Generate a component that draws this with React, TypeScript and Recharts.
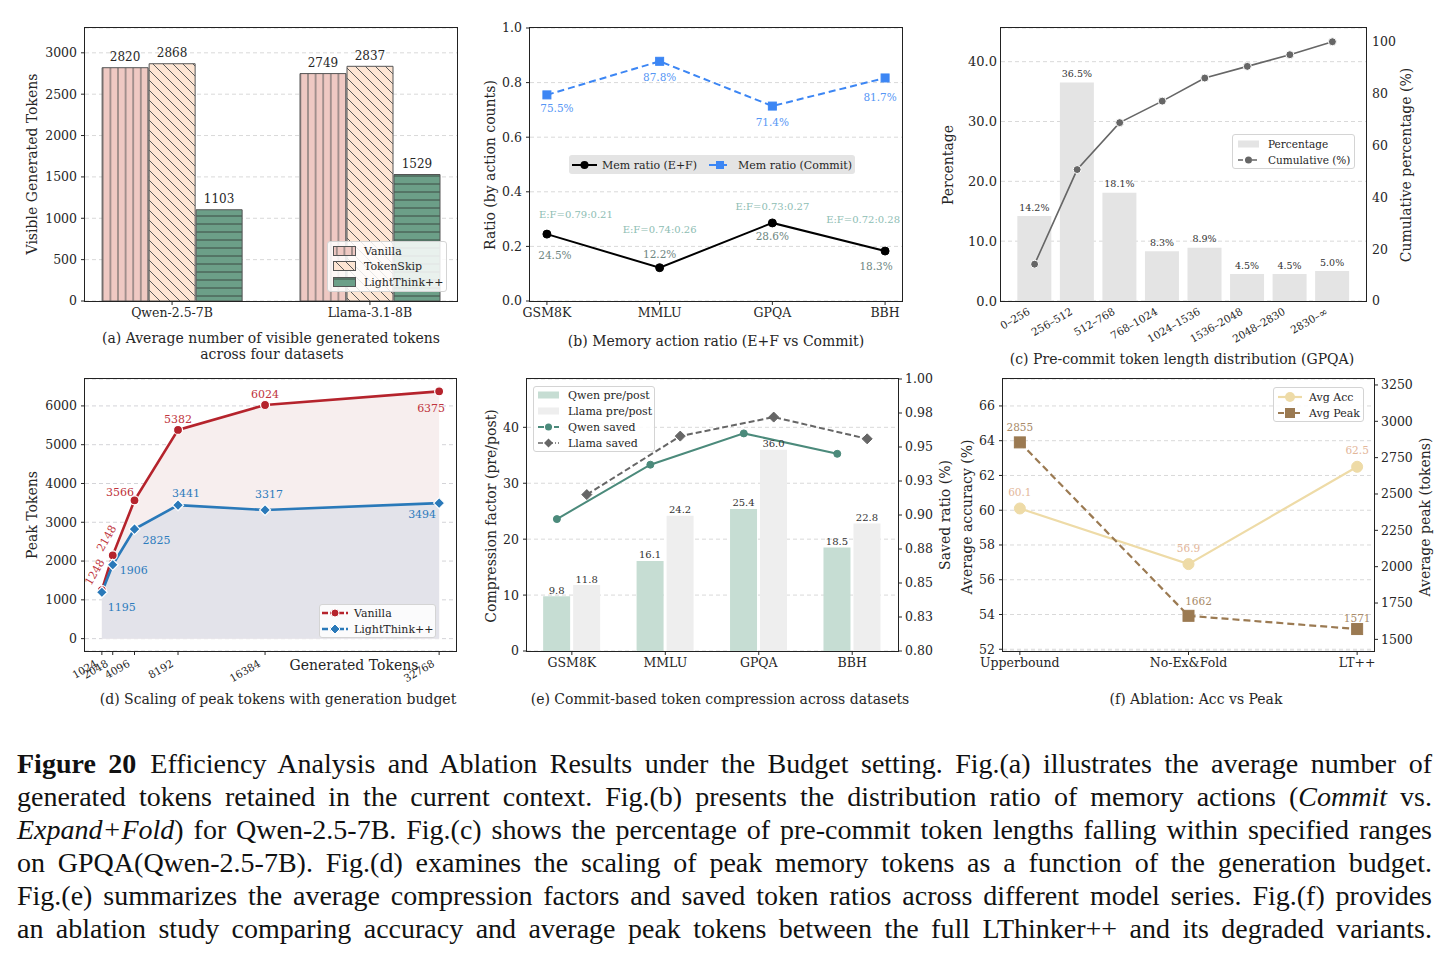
import React from 'react';
import { ComposedChart, Bar, Line, Area, XAxis, YAxis, CartesianGrid, LabelList } from 'recharts';

const SERIF = '"DejaVu Serif", serif';
const INK = '#262626';
const GRID = '#d9d9d9';

// ---------------- (a) visible generated tokens ----------------
const aModels = ['Qwen-2.5-7B', 'Llama-3.1-8B'];
const aVanilla = [2820, 2749];
const aTokenSkip = [2868, 2837];
const aLightThink = [1103, 1529];
const aYTicks = [0, 500, 1000, 1500, 2000, 2500, 3000];

// ---------------- (b) memory action ratio ----------------
const bDatasets = ['GSM8K', 'MMLU', 'GPQA', 'BBH'];
const bMemEF = [0.245, 0.122, 0.286, 0.183];
const bMemCommit = [0.755, 0.878, 0.714, 0.817];
const bExpandShare = [0.79, 0.74, 0.73, 0.72];
const bFoldShare = [0.21, 0.26, 0.27, 0.28];
const bYTicks = [0, 0.2, 0.4, 0.6, 0.8, 1.0];

// ---------------- (c) pre-commit token length distribution ----------------
const cBins = ['0–256', '256–512', '512–768', '768–1024', '1024–1536', '1536–2048', '2048–2830', '2830–∞'];
const cPercent = [14.2, 36.5, 18.1, 8.3, 8.9, 4.5, 4.5, 5.0];
const cCumulative = [14.2, 50.7, 68.8, 77.1, 86.0, 90.5, 95.0, 100.0];
const cLeftTicks = [0, 10, 20, 30, 40];
const cRightTicks = [0, 20, 40, 60, 80, 100];

// ---------------- (d) peak tokens vs budget ----------------
const dBudgets = [1024, 2048, 4096, 8192, 16384, 32768];
const dVanilla = [1248, 2148, 3566, 5382, 6024, 6375];
const dLightThink = [1195, 1906, 2825, 3441, 3317, 3494];
const dYTicks = [0, 1000, 2000, 3000, 4000, 5000, 6000];

// ---------------- (e) compression ----------------
const eDatasets = ['GSM8K', 'MMLU', 'GPQA', 'BBH'];
const eQwenFactor = [9.8, 16.1, 25.4, 18.5];
const eLlamaFactor = [11.8, 24.2, 36.0, 22.8];
const eQwenSaved = [0.897, 0.937, 0.96, 0.945];
const eLlamaSaved = [0.915, 0.958, 0.972, 0.956];
const eLeftTicks = [0, 10, 20, 30, 40];
const eRightTicks = [0.8, 0.825, 0.85, 0.875, 0.9, 0.925, 0.95, 0.975, 1.0];
const eRightTickLabels = ['0.80', '0.83', '0.85', '0.88', '0.90', '0.93', '0.95', '0.98', '1.00'];

// ---------------- (f) ablation ----------------
const fVariants = ['Upperbound', 'No-Ex&Fold', 'LT++'];
const fAcc = [60.1, 56.9, 62.5];
const fPeak = [2855, 1662, 1571];
const fLeftTicks = [52, 54, 56, 58, 60, 62, 64, 66];
const fRightTicks = [1500, 1750, 2000, 2250, 2500, 2750, 3000, 3250];

// ---------------- label placement (layout only) ----------------
const bCommitLabelOff = [[10, 13], [0, 16], [0, 16], [-5, 19]];
const bEFLabelOff = [[8, 21], [0, -14], [0, 13], [-9, 15]];
const bRatioLabelOff = [[29, -20], [0, -38], [0, -16], [-22, -32]];
const dVanillaLabelOff = [[-7, -18], [-6, -17], [-14.5, -8], [0, -10], [0, -10], [-8, 17.5]];
const dVanillaLabelRot = [-60, -60, 0, 0, 0, 0];
const dLTLabelOff = [[20, 15], [21, 6], [22, 11], [8, -12], [4, -15], [-17, 11]];
const fAccLabelOff = [[0, -16], [0, -16], [0, -17]];
const fPeakLabelOff = [[0, -15], [10, -15], [0, -11]];

// ---------------- geometry ----------------
const M = { top: 24, right: 12, bottom: 12, left: 12 };
type Geo = { x0: number; y0: number; x1: number; y1: number; yl: number; yr: number; xh: number };
const GA: Geo = { x0: 85, y0: 28, x1: 457, y1: 301, yl: 50, yr: 0, xh: 30 };
const GB: Geo = { x0: 530, y0: 28, x1: 902, y1: 301, yl: 40, yr: 0, xh: 30 };
const GC: Geo = { x0: 1001, y0: 28, x1: 1366, y1: 301, yl: 40, yr: 35, xh: 30 };
const GD: Geo = { x0: 85, y0: 379, x1: 456, y1: 651, yl: 50, yr: 0, xh: 30 };
const GE: Geo = { x0: 527, y0: 379, x1: 898, y1: 651, yl: 30, yr: 40, xh: 30 };
const GF: Geo = { x0: 1003, y0: 379, x1: 1374, y1: 651, yl: 30, yr: 45, xh: 30 };

const place = (g: Geo) => ({
  left: g.x0 - g.yl - M.left,
  top: g.y0 - M.top,
  width: g.x1 - g.x0 + g.yl + g.yr + M.left + M.right,
  height: g.y1 - g.y0 + g.xh + M.top + M.bottom,
});

const tickStyle = (size = 12.5) => ({ fontSize: size, fontFamily: SERIF, fill: INK });

function Panel({ g, data, barGap, children }: any) {
  const p = place(g);
  return (
    <div style={{ position: 'absolute', left: p.left, top: p.top }}>
      <ComposedChart width={p.width} height={p.height} data={data} margin={M} barGap={barGap}>
        {children}
      </ComposedChart>
    </div>
  );
}

function Frame({ g }: { g: Geo }) {
  return (
    <div
      style={{
        position: 'absolute', left: g.x0 - 0.6, top: g.y0 - 0.6, width: g.x1 - g.x0 + 1.2, height: g.y1 - g.y0 + 1.2,
        border: '1.2px solid #222', boxSizing: 'border-box', pointerEvents: 'none',
      }}
    />
  );
}

function marker(shape: string, cx: number, cy: number, r: number, fill: string, stroke: string, sw: number) {
  if (shape === 'circle') return <circle cx={cx} cy={cy} r={r} fill={fill} stroke={stroke} strokeWidth={sw} />;
  if (shape === 'square') return <rect x={cx - r} y={cy - r} width={2 * r} height={2 * r} fill={fill} stroke={stroke} strokeWidth={sw} />;
  return <path d={`M${cx},${cy - r}L${cx + r},${cy}L${cx},${cy + r}L${cx - r},${cy}Z`} fill={fill} stroke={stroke} strokeWidth={sw} />;
}

type LabelSet = { texts: string[]; offsets: number[][]; color: string; size: number; rotate?: number[] };
function makeDot(shape: string, r: number, fill: string, stroke: string, sw: number, labels: LabelSet[] = []) {
  return (p: any) => {
    const { cx, cy, index } = p;
    const key = `dot-${index}`;
    if (cx == null || cy == null || isNaN(cx) || isNaN(cy)) return <g key={key} />;
    return (
      <g key={key}>
        {marker(shape, cx, cy, r, fill, stroke, sw)}
        {labels.map((L, j) => {
          const tx = cx + L.offsets[index][0];
          const ty = cy + L.offsets[index][1];
          return (
            <text key={j} x={tx} y={ty} textAnchor="middle" dominantBaseline="central" fill={L.color}
              fontSize={L.size} fontFamily={SERIF}
              transform={L.rotate && L.rotate[index] ? `rotate(${L.rotate[index]},${tx},${ty})` : undefined}>
              {L.texts[index]}
            </text>
          );
        })}
      </g>
    );
  };
}

const rotTick = (labels: (v: number) => string, baseY: number, size: number) => (p: any) => {
  const x = p.x - 3.8;
  return (
    <text key={`t-${p.index}`} x={x} y={baseY} textAnchor="end" fontSize={size} fontFamily={SERIF} fill={INK}
      transform={`rotate(-30,${x},${baseY})`}>
      {labels(p.payload.value)}
    </text>
  );
};

function Txt({ x, y, children, size = 14, rotate = 0, color = INK, weight = 400 }: any) {
  return (
    <div
      style={{
        position: 'absolute', left: x, top: y, transform: `translate(-50%,-50%) rotate(${rotate}deg)`,
        whiteSpace: 'nowrap', fontFamily: SERIF, fontSize: size, color, lineHeight: 1, fontWeight: weight,
      }}
    >
      {children}
    </div>
  );
}

function LegendBox({ left, top, width, height, bg = 'rgba(255,255,255,0.85)', border = '1px solid #d4d4d4', size = 11, rows }: any) {
  return (
    <div style={{ position: 'absolute', left, top, width, height, background: bg, border, borderRadius: 3, boxSizing: 'border-box' }}>
      {rows.map((r: any, i: number) => (
        <React.Fragment key={i}>
          <svg style={{ position: 'absolute', left: r.sx, top: r.y - 7 }} width={r.sw} height={14}>{r.swatch(r.sw)}</svg>
          <div style={{ position: 'absolute', left: r.tx, top: r.y, transform: 'translateY(-50%)', fontSize: size, fontFamily: SERIF, color: INK, whiteSpace: 'nowrap', lineHeight: 1 }}>
            {r.label}
          </div>
        </React.Fragment>
      ))}
    </div>
  );
}

const hatchSw = (id: string) => (w: number) => <rect x={0.5} y={2.5} width={w - 1} height={9} fill={`url(#${id})`} stroke="#555" strokeWidth={1} />;
const rectSw = (fill: string, h = 7) => (w: number) => <rect x={0} y={7 - h / 2} width={w} height={h} fill={fill} />;
const lineSw = (color: string, dash: string | undefined, shape: string, r: number, sw: number, mstroke = 'none') => (w: number) => (
  <g>
    <line x1={0} y1={7} x2={w} y2={7} stroke={color} strokeWidth={sw} strokeDasharray={dash} />
    {marker(shape, w / 2, 7, r, color, mstroke, 1)}
  </g>
);

const PatternDefs = () => (
  <svg width={0} height={0} style={{ position: 'absolute', left: 0, top: 0 }}>
    <defs>
      <pattern id="hatch-v" width={7.6} height={10} patternUnits="userSpaceOnUse">
        <rect width={7.6} height={10} fill="#efc9c3" />
        <line x1={3.8} y1={0} x2={3.8} y2={10} stroke="#5a5a5a" strokeWidth={1} />
      </pattern>
      <pattern id="hatch-d" width={10} height={10} patternUnits="userSpaceOnUse">
        <rect width={10} height={10} fill="#fde5d3" />
        <path d="M-1,-1 L11,11 M-6,4 L6,16 M4,-6 L16,6" stroke="#5a5a5a" strokeWidth={1} />
      </pattern>
      <pattern id="hatch-h" width={10} height={8} patternUnits="userSpaceOnUse">
        <rect width={10} height={8} fill="#6c9f88" />
        <line x1={0} y1={4} x2={10} y2={4} stroke="#3b4a43" strokeWidth={1} />
      </pattern>
    </defs>
  </svg>
);

// ---------------- charts ----------------
function ChartA() {
  const data = aModels.map((m, i) => ({ x: i, vanilla: aVanilla[i], tokenskip: aTokenSkip[i], lt: aLightThink[i] }));
  const lbl = { position: 'top' as const, offset: 6.5, fill: INK, fontSize: 12, fontFamily: SERIF };
  return (
    <Panel g={GA} data={data} barGap={1}>
      <CartesianGrid vertical={false} stroke={GRID} strokeDasharray="4 3" />
      <XAxis type="number" dataKey="x" domain={[-0.44, 1.44]} ticks={[0, 1]} allowDataOverflow interval={0}
        tickFormatter={(v: number) => aModels[Math.round(v)]} height={GA.xh} axisLine={false}
        tickLine={{ stroke: INK }} tickSize={4} tickMargin={3} tick={tickStyle()} />
      <YAxis domain={[0, 3300]} ticks={aYTicks} allowDataOverflow interval={0} width={GA.yl} axisLine={false}
        tickLine={{ stroke: INK }} tickSize={4} tickMargin={4} tick={tickStyle()} />
      <Bar dataKey="vanilla" barSize={46} fill="url(#hatch-v)" stroke="#555" strokeWidth={1} isAnimationActive={false}>
        <LabelList dataKey="vanilla" {...lbl} />
      </Bar>
      <Bar dataKey="tokenskip" barSize={46} fill="url(#hatch-d)" stroke="#555" strokeWidth={1} isAnimationActive={false}>
        <LabelList dataKey="tokenskip" {...lbl} />
      </Bar>
      <Bar dataKey="lt" barSize={46} fill="url(#hatch-h)" stroke="#555" strokeWidth={1} isAnimationActive={false}>
        <LabelList dataKey="lt" {...lbl} />
      </Bar>
    </Panel>
  );
}

function ChartB() {
  const data = bDatasets.map((d, i) => ({ x: i, ef: bMemEF[i], commit: bMemCommit[i] }));
  const pct = (v: number) => `${(v * 100).toFixed(1)}%`;
  const efLabels: LabelSet[] = [
    { texts: bMemEF.map(pct), offsets: bEFLabelOff, color: '#6e8681', size: 10.5 },
    { texts: bExpandShare.map((e, i) => `E:F=${e.toFixed(2)}:${bFoldShare[i].toFixed(2)}`), offsets: bRatioLabelOff, color: '#8dbdb3', size: 10 },
  ];
  const commitLabels: LabelSet[] = [{ texts: bMemCommit.map(pct), offsets: bCommitLabelOff, color: '#5596f5', size: 10.5 }];
  return (
    <Panel g={GB} data={data}>
      <CartesianGrid vertical={false} stroke={GRID} strokeDasharray="4 3" />
      <XAxis type="number" dataKey="x" domain={[-0.15, 3.15]} ticks={[0, 1, 2, 3]} allowDataOverflow interval={0}
        tickFormatter={(v: number) => bDatasets[Math.round(v)]} height={GB.xh} axisLine={false}
        tickLine={{ stroke: INK }} tickSize={4} tickMargin={3} tick={tickStyle()} />
      <YAxis domain={[0, 1]} ticks={bYTicks} allowDataOverflow interval={0} width={GB.yl} axisLine={false}
        tickFormatter={(v: number) => v.toFixed(1)} tickLine={{ stroke: INK }} tickSize={4} tickMargin={4} tick={tickStyle()} />
      <Line type="linear" dataKey="ef" stroke="#000" strokeWidth={2} activeDot={false} isAnimationActive={false}
        dot={makeDot('circle', 4, '#000', '#000', 1, efLabels)} />
      <Line type="linear" dataKey="commit" stroke="#3c86f4" strokeWidth={2} strokeDasharray="7 4" activeDot={false}
        isAnimationActive={false} dot={makeDot('square', 4, '#3c86f4', '#3c86f4', 1, commitLabels)} />
    </Panel>
  );
}

function ChartC() {
  const data = cBins.map((b, i) => ({ x: i, pct: cPercent[i], cum: cCumulative[i] }));
  const baseY = M.top + (GC.y1 - GC.y0) + 12.7;
  return (
    <Panel g={GC} data={data}>
      <CartesianGrid vertical={false} stroke={GRID} strokeDasharray="4 3" />
      <XAxis type="number" dataKey="x" domain={[-0.79, 7.79]} ticks={[0, 1, 2, 3, 4, 5, 6, 7]} allowDataOverflow interval={0}
        height={GC.xh} axisLine={false} tickLine={false} tickSize={0}
        tick={rotTick((v) => cBins[Math.round(v)], baseY, 10.5)} />
      <YAxis domain={[0, 45.625]} ticks={cLeftTicks} allowDataOverflow interval={0} width={GC.yl} axisLine={false}
        tickFormatter={(v: number) => v.toFixed(1)} tickLine={false} tickSize={0} tickMargin={4} tick={tickStyle(13)} />
      <YAxis yAxisId="r" orientation="right" domain={[0, 105.3]} ticks={cRightTicks} allowDataOverflow interval={0}
        width={GC.yr} axisLine={false} tickLine={false} tickSize={0} tickMargin={6} tick={tickStyle(12.5)} />
      <Bar dataKey="pct" barSize={34} fill="#e4e4e4" isAnimationActive={false}>
        <LabelList dataKey="pct" position="top" offset={5.5} fill="#333" fontSize={9.5} fontFamily={SERIF}
          formatter={(v: any) => `${Number(v).toFixed(1)}%`} />
      </Bar>
      <Line yAxisId="r" type="linear" dataKey="cum" stroke="#666" strokeWidth={1.6} activeDot={false} isAnimationActive={false}
        dot={makeDot('circle', 4, '#666', '#fff', 1)} />
    </Panel>
  );
}

function ChartD() {
  const data = dBudgets.map((b, i) => ({ x: b, vanilla: dVanilla[i], lt: dLightThink[i] }));
  const baseY = M.top + (GD.y1 - GD.y0) + 14.7;
  const vLabels: LabelSet[] = [{ texts: dVanilla.map(String), offsets: dVanillaLabelOff, rotate: dVanillaLabelRot, color: '#c0343c', size: 11 }];
  const lLabels: LabelSet[] = [{ texts: dLightThink.map(String), offsets: dLTLabelOff, color: '#2d7bbd', size: 11 }];
  return (
    <Panel g={GD} data={data}>
      <Area type="linear" dataKey="vanilla" baseValue={0} stroke="none" fill="#f7eeee" fillOpacity={1} dot={false}
        activeDot={false} isAnimationActive={false} />
      <Area type="linear" dataKey="lt" baseValue={0} stroke="none" fill="#e3e3ea" fillOpacity={1} dot={false}
        activeDot={false} isAnimationActive={false} />
      <CartesianGrid vertical={false} stroke="#d4d4d8" strokeDasharray="4 3" />
      <XAxis type="number" dataKey="x" domain={[-563, 34355]} ticks={dBudgets} allowDataOverflow interval={0}
        height={GD.xh} axisLine={false} tickLine={{ stroke: INK }} tickSize={4}
        tick={rotTick((v) => String(v), baseY, 10.5)} />
      <YAxis domain={[-319, 6694]} ticks={dYTicks} allowDataOverflow interval={0} width={GD.yl} axisLine={false}
        tickLine={{ stroke: INK }} tickSize={4} tickMargin={4} tick={tickStyle()} />
      <Line type="linear" dataKey="vanilla" stroke="#b5232c" strokeWidth={2.6} activeDot={false} isAnimationActive={false}
        dot={makeDot('circle', 4.5, '#b5232c', '#fff', 1.2, vLabels)} />
      <Line type="linear" dataKey="lt" stroke="#2a79b9" strokeWidth={2.6} activeDot={false} isAnimationActive={false}
        dot={makeDot('diamond', 5.5, '#2a79b9', '#fff', 1.2, lLabels)} />
    </Panel>
  );
}

const E_OFF = 0.16;
const E_DOMAIN = [-0.48, 3.49];
function ChartE() {
  const data = eDatasets.map((d, i) => ({
    x: i, xq: i - E_OFF, xl: i + E_OFF,
    qf: eQwenFactor[i], lf: eLlamaFactor[i], qs: eQwenSaved[i], ls: eLlamaSaved[i],
  }));
  const lbl = { position: 'top' as const, offset: 2.5, fill: '#333', fontSize: 10, fontFamily: SERIF, formatter: (v: any) => Number(v).toFixed(1) };
  return (
    <Panel g={GE} data={data} barGap={3}>
      <CartesianGrid vertical={false} stroke={GRID} strokeDasharray="4 3" />
      <XAxis type="number" dataKey="x" domain={E_DOMAIN} ticks={[0, 1, 2, 3]} allowDataOverflow interval={0}
        tickFormatter={(v: number) => eDatasets[Math.round(v)]} height={GE.xh} axisLine={false}
        tickLine={{ stroke: INK }} tickSize={4} tickMargin={3} tick={tickStyle()} />
      <XAxis xAxisId="q" type="number" dataKey="xq" domain={E_DOMAIN} allowDataOverflow hide />
      <XAxis xAxisId="l" type="number" dataKey="xl" domain={E_DOMAIN} allowDataOverflow hide />
      <YAxis domain={[0, 48.64]} ticks={eLeftTicks} allowDataOverflow interval={0} width={GE.yl} axisLine={false}
        tickLine={{ stroke: INK }} tickSize={4} tickMargin={4} tick={tickStyle()} />
      <YAxis yAxisId="r" orientation="right" domain={[0.8, 1.0]} ticks={eRightTicks} allowDataOverflow interval={0}
        tickFormatter={(v: number) => eRightTickLabels[eRightTicks.findIndex((t) => Math.abs(t - v) < 1e-6)]}
        width={GE.yr} axisLine={false} tickLine={{ stroke: INK }} tickSize={4} tickMargin={3} tick={tickStyle()} />
      <Bar dataKey="qf" barSize={27} fill="#c6ddd3" isAnimationActive={false}>
        <LabelList dataKey="qf" {...lbl} />
      </Bar>
      <Bar dataKey="lf" barSize={27} fill="#eeeeee" isAnimationActive={false}>
        <LabelList dataKey="lf" {...lbl} />
      </Bar>
      <Line xAxisId="q" yAxisId="r" type="linear" dataKey="qs" stroke="#4b8a7b" strokeWidth={2} activeDot={false}
        isAnimationActive={false} dot={makeDot('circle', 3.5, '#4b8a7b', '#4b8a7b', 1)} />
      <Line xAxisId="l" yAxisId="r" type="linear" dataKey="ls" stroke="#666" strokeWidth={2} strokeDasharray="6 3"
        activeDot={false} isAnimationActive={false} dot={makeDot('diamond', 5, '#666', '#666', 1)} />
    </Panel>
  );
}

function ChartF() {
  const data = fVariants.map((v, i) => ({ x: i, acc: fAcc[i], peak: fPeak[i] }));
  const accLabels: LabelSet[] = [{ texts: fAcc.map((v) => v.toFixed(1)), offsets: fAccLabelOff, color: '#e3b79b', size: 10.5 }];
  const peakLabels: LabelSet[] = [{ texts: fPeak.map(String), offsets: fPeakLabelOff, color: '#a88a68', size: 10.5 }];
  return (
    <Panel g={GF} data={data}>
      <CartesianGrid vertical={false} stroke={GRID} strokeDasharray="4 3" />
      <XAxis type="number" dataKey="x" domain={[-0.1, 2.1]} ticks={[0, 1, 2]} allowDataOverflow interval={0}
        tickFormatter={(v: number) => fVariants[Math.round(v)]} height={GF.xh} axisLine={false}
        tickLine={{ stroke: INK }} tickSize={4} tickMargin={3} tick={tickStyle()} />
      <YAxis domain={[51.9, 67.55]} ticks={fLeftTicks} allowDataOverflow interval={0} width={GF.yl} axisLine={false}
        tickLine={{ stroke: INK }} tickSize={4} tickMargin={4} tick={tickStyle()} />
      <YAxis yAxisId="r" orientation="right" domain={[1420, 3291]} ticks={fRightTicks} allowDataOverflow interval={0}
        width={GF.yr} axisLine={false} tickLine={{ stroke: INK }} tickSize={4} tickMargin={3} tick={tickStyle()} />
      <Line type="linear" dataKey="acc" stroke="#eedba7" strokeWidth={2.2} activeDot={false} isAnimationActive={false}
        dot={makeDot('circle', 5.5, '#eedba7', '#eedba7', 1, accLabels)} />
      <Line yAxisId="r" type="linear" dataKey="peak" stroke="#9b7a52" strokeWidth={2.2} strokeDasharray="7 4"
        activeDot={false} isAnimationActive={false} dot={makeDot('square', 5.5, '#9b7a52', '#9b7a52', 1, peakLabels)} />
    </Panel>
  );
}

const capStyle: React.CSSProperties = {
  width: 1415, textAlign: 'justify', textAlignLast: 'justify' as any, height: 33, lineHeight: '33px', overflow: 'visible',
};

export default function App() {
  return (
    <div style={{ position: 'absolute', left: 0, top: 0, width: 1454, height: 959, background: '#fff', overflow: 'hidden' }}>
      <style>{`.recharts-surface{overflow:visible}`}</style>
      <PatternDefs />

      <ChartA />
      <ChartB />
      <ChartC />
      <ChartD />
      <ChartE />
      <ChartF />

      <Frame g={GA} />
      <Frame g={GB} />
      <Frame g={GC} />
      <Frame g={GD} />
      <Frame g={GE} />
      <Frame g={GF} />

      {/* axis titles */}
      <Txt x={32} y={164} rotate={-90}>Visible Generated Tokens</Txt>
      <Txt x={490} y={165} rotate={-90}>Ratio (by action counts)</Txt>
      <Txt x={948} y={165} rotate={-90}>Percentage</Txt>
      <Txt x={1406} y={165} rotate={-90}>Cumulative percentage (%)</Txt>
      <Txt x={32} y={515} rotate={-90}>Peak Tokens</Txt>
      <Txt x={354} y={665}>Generated Tokens</Txt>
      <Txt x={491} y={516} rotate={-90}>Compression factor (pre/post)</Txt>
      <Txt x={945} y={515} rotate={-90}>Saved ratio (%)</Txt>
      <Txt x={967} y={517} rotate={-90}>Average accuracy (%)</Txt>
      <Txt x={1425} y={517} rotate={-90}>Average peak (tokens)</Txt>

      {/* sub-captions */}
      <Txt x={271} y={338}>(a) Average number of visible generated tokens</Txt>
      <Txt x={272} y={354}>across four datasets</Txt>
      <Txt x={716} y={341}>(b) Memory action ratio (E+F vs Commit)</Txt>
      <Txt x={1182} y={359}>(c) Pre-commit token length distribution (GPQA)</Txt>
      <Txt x={278} y={699}>(d) Scaling of peak tokens with generation budget</Txt>
      <Txt x={720} y={699}>(e) Commit-based token compression across datasets</Txt>
      <Txt x={1196} y={699}>(f) Ablation: Acc vs Peak</Txt>

      {/* legends */}
      <LegendBox left={327} top={241} width={120} height={51} rows={[
        { sx: 5, sw: 23, y: 9, tx: 36, label: 'Vanilla', swatch: hatchSw('hatch-v') },
        { sx: 5, sw: 23, y: 24, tx: 36, label: 'TokenSkip', swatch: hatchSw('hatch-d') },
        { sx: 5, sw: 23, y: 40, tx: 36, label: 'LightThink++', swatch: hatchSw('hatch-h') },
      ]} />
      <LegendBox left={569} top={155} width={286} height={19} bg="#e4e4e4" border="none" rows={[
        { sx: 3, sw: 25, y: 9.5, tx: 33, label: 'Mem ratio (E+F)', swatch: lineSw('#000', undefined, 'circle', 4, 2) },
        { sx: 140, sw: 22, y: 9.5, tx: 169, label: 'Mem ratio (Commit)', swatch: lineSw('#3c86f4', '7 4', 'square', 4, 2) },
      ]} />
      <LegendBox left={1232} top={134} width={123} height={35} size={10.5} rows={[
        { sx: 5, sw: 21, y: 9, tx: 35, label: 'Percentage', swatch: rectSw('#e4e4e4', 7) },
        { sx: 5, sw: 21, y: 25, tx: 35, label: 'Cumulative (%)', swatch: lineSw('#666', '5 2', 'circle', 3.5, 1.6) },
      ]} />
      <LegendBox left={319} top={604} width={117} height={34} rows={[
        { sx: 2, sw: 26, y: 8, tx: 34, label: 'Vanilla', swatch: lineSw('#b5232c', '6 2', 'circle', 4, 2.6, '#fff') },
        { sx: 2, sw: 26, y: 24, tx: 34, label: 'LightThink++', swatch: lineSw('#2a79b9', '6 2', 'diamond', 5, 2.6, '#fff') },
      ]} />
      <LegendBox left={533} top={386} width={122} height={66} rows={[
        { sx: 4, sw: 21, y: 8, tx: 34, label: 'Qwen pre/post', swatch: rectSw('#c6ddd3', 7) },
        { sx: 4, sw: 21, y: 24, tx: 34, label: 'Llama pre/post', swatch: rectSw('#eeeeee', 7) },
        { sx: 4, sw: 21, y: 40, tx: 34, label: 'Qwen saved', swatch: lineSw('#4b8a7b', '6 2', 'circle', 3.5, 2) },
        { sx: 4, sw: 21, y: 56, tx: 34, label: 'Llama saved', swatch: lineSw('#666', '5 2 1 2', 'diamond', 4.5, 1.6) },
      ]} />
      <LegendBox left={1273} top={387} width={91} height={35} rows={[
        { sx: 4, sw: 24, y: 9, tx: 35, label: 'Avg Acc', swatch: lineSw('#eedba7', undefined, 'circle', 5, 2.2) },
        { sx: 4, sw: 24, y: 25, tx: 35, label: 'Avg Peak', swatch: lineSw('#9b7a52', '6 2', 'square', 5, 2.2) },
      ]} />

      {/* figure caption */}
      <div style={{ position: 'absolute', left: 17, top: 747, fontFamily: '"Liberation Serif", serif', fontSize: 28, color: '#111' }}>
        <div style={capStyle}><b>Figure 20</b>{'\u2002'}Efficiency Analysis and Ablation Results under the Budget setting. Fig.(a) illustrates the average number of</div>
        <div style={capStyle}>generated tokens retained in the current context. Fig.(b) presents the distribution ratio of memory actions (<i>Commit</i> vs.</div>
        <div style={capStyle}><i>Expand+Fold</i>) for Qwen-2.5-7B. Fig.(c) shows the percentage of pre-commit token lengths falling within specified ranges</div>
        <div style={capStyle}>on GPQA(Qwen-2.5-7B). Fig.(d) examines the scaling of peak memory tokens as a function of the generation budget.</div>
        <div style={capStyle}>Fig.(e) summarizes the average compression factors and saved token ratios across different model series. Fig.(f) provides</div>
        <div style={capStyle}>an ablation study comparing accuracy and average peak tokens between the full LThinker++ and its degraded variants.</div>
      </div>
    </div>
  );
}
